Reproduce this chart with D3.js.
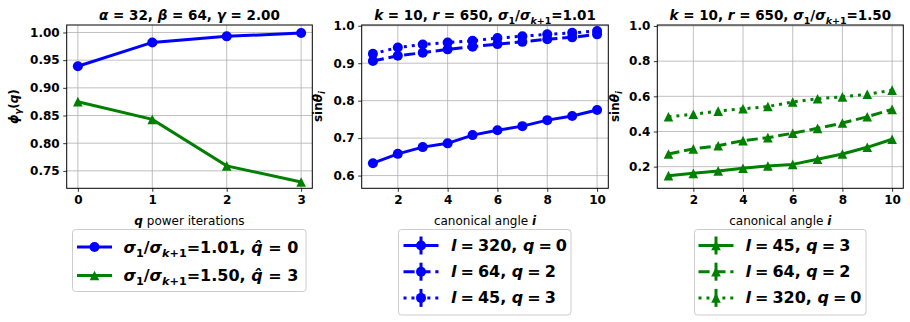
<!DOCTYPE html>
<html>
<head>
<meta charset="utf-8">
<script src="https://cdn.jsdelivr.net/npm/d3@7"></script>
<style>
  body { margin: 0; background: #fff; }
  svg { display: block; font-family: "DejaVu Sans", sans-serif; }
</style>
</head>
<body>
<div id="chart"></div>
<script>
// data
var qIters = [0, 1, 2, 3];
var phiRatio101 = [0.939, 0.982, 0.993, 0.999];
var phiRatio150 = [0.875, 0.843, 0.759, 0.730];

var angles = [1, 2, 3, 4, 5, 6, 7, 8, 9, 10];
// sigma ratio 1.01
var sin101_l320 = [0.633, 0.658, 0.676, 0.686, 0.708, 0.721, 0.732, 0.748, 0.759, 0.775];
var sin101_l64  = [0.906, 0.920, 0.928, 0.937, 0.944, 0.951, 0.957, 0.964, 0.969, 0.977];
var sin101_l45  = [0.925, 0.942, 0.950, 0.955, 0.960, 0.967, 0.972, 0.977, 0.981, 0.986];
// sigma ratio 1.50
var sin150_l45  = [0.149, 0.162, 0.176, 0.191, 0.204, 0.213, 0.242, 0.272, 0.310, 0.356];
var sin150_l64  = [0.272, 0.301, 0.319, 0.348, 0.365, 0.390, 0.418, 0.448, 0.484, 0.526];
var sin150_l320 = [0.484, 0.498, 0.516, 0.529, 0.542, 0.568, 0.586, 0.597, 0.612, 0.635];

var blue = "#0000ff", green = "#008000";
var dashes = { solid: null, dashed: "11.1,4.8", dotted: "3,4.95" };

var W = 910, H = 322;
var svg = d3.select("#chart").append("svg")
    .attr("width", W)
    .attr("height", H);

// write mixed-style text: parts = [text, style, sub]
function rich(sel, parts, size) {
    var shift = 0;
    parts.forEach(function(p) {
        var s = p[2] ? size * 0.28 : 0;
        sel.append("tspan")
            .text(p[0])
            .attr("dy", s - shift)
            .attr("font-size", p[2] ? size * 0.7 : size)
            .attr("font-weight", p[1] == "n" ? "normal" : "bold")
            .attr("font-style", p[1] == "bi" ? "italic" : "normal");
        shift = s;
    });
    return sel;
}

function tri(s) {
    return "M0," + (-s) + "L" + (-s) + "," + s + "L" + s + "," + s + "Z";
}

function marker(g, kind, x, y, color) {
    if (kind == "circle") {
        g.append("circle").attr("cx", x).attr("cy", y).attr("r", 5).attr("fill", color);
    } else {
        g.append("path").attr("d", tri(4.8)).attr("transform", "translate(" + x + "," + y + ")").attr("fill", color);
    }
}

var plotTop = 25, plotBottom = 188.3;

function panel(opt) {
    var g = svg.append("g");
    var x = d3.scaleLinear().domain(opt.xd).range([opt.left, opt.right]);
    var y = d3.scaleLinear().domain(opt.yd).range([plotBottom, plotTop]);

    // grid
    g.append("g").selectAll("line").data(opt.xt).enter().append("line")
        .attr("x1", function(d) { return x(d); }).attr("x2", function(d) { return x(d); })
        .attr("y1", plotTop).attr("y2", plotBottom)
        .attr("stroke", "#b0b0b0").attr("stroke-width", 0.8);
    g.append("g").selectAll("line").data(opt.yt).enter().append("line")
        .attr("y1", function(d) { return y(d); }).attr("y2", function(d) { return y(d); })
        .attr("x1", opt.left).attr("x2", opt.right)
        .attr("stroke", "#b0b0b0").attr("stroke-width", 0.8);

    // axes
    var xa = g.append("g").attr("transform", "translate(0," + plotBottom + ")")
        .call(d3.axisBottom(x).tickValues(opt.xt).tickSize(3.5).tickPadding(4).tickFormat(d3.format("d")));
    var ya = g.append("g").attr("transform", "translate(" + opt.left + ",0)")
        .call(d3.axisLeft(y).tickValues(opt.yt).tickSize(3.5).tickPadding(3.5).tickFormat(d3.format(opt.yf)));
    [xa, ya].forEach(function(a) {
        a.select(".domain").remove();
        a.selectAll("text").attr("font-family", "DejaVu Sans").attr("font-size", 12)
            .attr("font-weight", "bold").attr("fill", "#000");
        a.selectAll("line").attr("stroke", "#000").attr("stroke-width", 0.8);
    });

    // series
    opt.series.forEach(function(s) {
        var line = d3.line().x(function(d, i) { return x(opt.xs[i]); }).y(function(d) { return y(d); });
        g.append("path").datum(s.values)
            .attr("d", line)
            .attr("fill", "none")
            .attr("stroke", s.color)
            .attr("stroke-width", 3)
            .attr("stroke-dasharray", dashes[s.dash]);
        s.values.forEach(function(v, i) {
            marker(g, s.marker, x(opt.xs[i]), y(v), s.color);
        });
    });

    // frame
    g.append("rect").attr("x", opt.left).attr("y", plotTop)
        .attr("width", opt.right - opt.left).attr("height", plotBottom - plotTop)
        .attr("fill", "none").attr("stroke", "#000").attr("stroke-width", 1);

    // title
    rich(g.append("text").attr("x", (opt.left + opt.right) / 2).attr("y", 20)
        .attr("text-anchor", "middle"), opt.title, 13.5);
    // x label
    rich(g.append("text").attr("x", (opt.left + opt.right) / 2).attr("y", 225)
        .attr("text-anchor", "middle"), opt.xlabel, 12);
    // y label
    rich(g.append("text").attr("transform", "translate(" + opt.ylx + "," + ((plotTop + plotBottom) / 2) + ") rotate(-90)")
        .attr("text-anchor", "middle"), opt.ylabel, 12);

    // legend
    var L = opt.legend;
    g.append("rect").attr("x", L.x).attr("y", L.y).attr("width", L.w).attr("height", L.h)
        .attr("rx", 3).attr("fill", "#fff").attr("stroke", "#cccccc").attr("stroke-width", 1);
    L.rows.forEach(function(r, i) {
        var ry = L.y0 + i * L.dy;
        var s = opt.series[r.s];
        g.append("line").attr("x1", L.hx).attr("x2", L.hx + 35).attr("y1", ry).attr("y2", ry)
            .attr("stroke", s.color).attr("stroke-width", 3).attr("stroke-dasharray", dashes[s.dash]);
        if (L.err) {
            g.append("line").attr("x1", L.hx + 17.5).attr("x2", L.hx + 17.5)
                .attr("y1", ry - 9).attr("y2", ry + 9)
                .attr("stroke", s.color).attr("stroke-width", 3);
        }
        marker(g, s.marker, L.hx + 17.5, ry, s.color);
        rich(g.append("text").attr("x", L.tx).attr("y", ry + 5.5), r.label, 16);
    });
}

var sig = function(v) {
    return [["σ", "bi"], ["1", "b", 1], ["/", "b"], ["σ", "bi"], ["k", "bi", 1], ["+1", "b", 1], ["=" + v, "b"]];
};
var sp = "\u2005";
var lq = function(l, q) {
    return [["l", "bi"], [sp + "=" + sp + l + ", ", "b"], ["q", "bi"], [sp + "=" + sp + q, "b"]];
};
var sinLabel = [["sin", "b"], ["θ", "bi"], ["i", "bi", 1]];
var angLabel = [["canonical angle ", "n"], ["i", "bi"]];

panel({
    left: 66.7, right: 312.3, xd: [-0.15, 3.15], yd: [0.7185, 1.0135],
    xs: qIters, xt: [0, 1, 2, 3], yt: [0.75, 0.80, 0.85, 0.90, 0.95, 1.00], yf: ".2f",
    series: [
        { values: phiRatio101, color: blue, dash: "solid", marker: "circle" },
        { values: phiRatio150, color: green, dash: "solid", marker: "tri" }
    ],
    title: [["α", "bi"], [" = 32, ", "b"], ["β", "bi"], [" = 64, ", "b"], ["γ", "bi"], [" = 2.00", "b"]],
    xlabel: [["q", "bi"], [" power iterations", "n"]],
    ylabel: [["ϕ", "bi"], ["γ", "bi", 1], ["(", "b"], ["q", "bi"], [")", "b"]],
    ylx: 18,
    legend: { x: 72.5, y: 229.5, w: 233.5, h: 62, y0: 247, dy: 28.5, hx: 77, tx: 123.5, err: false,
        rows: [
            { s: 0, label: sig("1.01").concat([[", ", "b"], ["q\u0302", "bi"], [" = 0", "b"]]) },
            { s: 1, label: sig("1.50").concat([[", ", "b"], ["q\u0302", "bi"], [" = 3", "b"]]) }
        ] }
});

panel({
    left: 361.7, right: 608.3, xd: [0.55, 10.45], yd: [0.566, 1.002],
    xs: angles, xt: [2, 4, 6, 8, 10], yt: [0.6, 0.7, 0.8, 0.9, 1.0], yf: ".1f",
    series: [
        { values: sin101_l320, color: blue, dash: "solid", marker: "circle" },
        { values: sin101_l64, color: blue, dash: "dashed", marker: "circle" },
        { values: sin101_l45, color: blue, dash: "dotted", marker: "circle" }
    ],
    title: [["k", "bi"], [" = 10, ", "b"], ["r", "bi"], [" = 650, ", "b"]].concat(sig("1.01")),
    xlabel: angLabel, ylabel: sinLabel, ylx: 322,
    legend: { x: 398.5, y: 229.5, w: 172.5, h: 85.5, y0: 245.5, dy: 26.2, hx: 403.5, tx: 451, err: true,
        rows: [
            { s: 0, label: lq(320, 0) },
            { s: 1, label: lq(64, 2) },
            { s: 2, label: lq(45, 3) }
        ] }
});

panel({
    left: 657.3, right: 903.3, xd: [0.55, 10.45], yd: [0.077, 1.0055],
    xs: angles, xt: [2, 4, 6, 8, 10], yt: [0.2, 0.4, 0.6, 0.8, 1.0], yf: ".1f",
    series: [
        { values: sin150_l45, color: green, dash: "solid", marker: "tri" },
        { values: sin150_l64, color: green, dash: "dashed", marker: "tri" },
        { values: sin150_l320, color: green, dash: "dotted", marker: "tri" }
    ],
    title: [["k", "bi"], [" = 10, ", "b"], ["r", "bi"], [" = 650, ", "b"]].concat(sig("1.50")),
    xlabel: angLabel, ylabel: sinLabel, ylx: 619,
    legend: { x: 694.5, y: 229.5, w: 171.5, h: 85.5, y0: 245.5, dy: 26.2, hx: 698.5, tx: 745.5, err: true,
        rows: [
            { s: 0, label: lq(45, 3) },
            { s: 1, label: lq(64, 2) },
            { s: 2, label: lq(320, 0) }
        ] }
});
</script>
</body>
</html>
